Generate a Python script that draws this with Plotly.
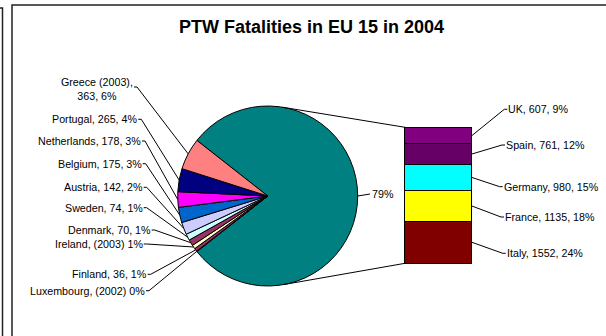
import math
import plotly.graph_objects as go

# ---------------- data ----------------
small_countries = ["Greece", "Portugal", "Netherlands", "Belgium", "Austria",
                   "Sweden", "Denmark", "Ireland", "Finland", "Luxembourg"]
small_values = [363, 265, 178, 175, 142, 74, 70, 45, 36, 6]
small_labels = ["Greece (2003),<br>363, 6%", "Portugal, 265, 4%", "Netherlands, 178, 3%",
                "Belgium, 175, 3%", "Austria, 142, 2%", "Sweden, 74, 1%",
                "Denmark, 70, 1%", "Ireland, (2003) 1%", "Finland, 36, 1%",
                "Luxembourg, (2002) 0%"]
small_colors = ["#FF8080", "#000080", "#FF00FF", "#0066CC", "#CCCCFF",
                "#CCFFFF", "#993366", "#FFFFCC", "#993366", "#9999FF"]

big_countries = ["UK", "Spain", "Germany", "France", "Italy"]
big_values = [607, 761, 980, 1135, 1552]
big_labels = ["UK, 607, 9%", "Spain, 761, 12%", "Germany, 980, 15%",
              "France, 1135, 18%", "Italy, 1552, 24%"]
big_colors = ["#800080", "#660066", "#00FFFF", "#FFFF00", "#800000"]

other_label = "79%"
other_color = "#008080"
title = "PTW Fatalities in EU 15 in 2004"

# ---------------- layout geometry (pixels) ----------------
W, H = 606, 336
CX, CY, R = 267.7, 196.0, 90.0          # main pie
BAR_L, BAR_R, BAR_T, BAR_B = 405.0, 472.0, 127.3, 263.3   # secondary bar
FONT = "Liberation Sans, Arial, sans-serif"
FS = 10.7

# label anchors: left side (right edge x, centre y), right side (left edge x, centre y)
small_label_pos = [(133, 89), (137.3, 119.3), (141, 141), (141.7, 163.7),
                   (142.7, 187.3), (142.7, 207.7), (150.7, 230), (142.7, 244),
                   (146.7, 274.3), (145, 290.7)]
big_label_pos = [(508.3, 109.3), (506, 145), (503.7, 186.7), (505, 217), (506.7, 253.3)]
other_label_pos = (371.5, 194)

other_total = sum(big_values)
small_total = sum(small_values)
grand_total = other_total + small_total
s_frac = small_total / grand_total

# small slices sit on the left, centred on 180 degrees
start_math = 180.0 - 180.0 * s_frac

fig = go.Figure()

# ---- main pie: drawn clockwise starting with the "other" slice ----
pie_values = [other_total] + small_values[::-1]
pie_colors = [other_color] + small_colors[::-1]
pie_names = ["Other"] + small_countries[::-1]
fig.add_trace(go.Pie(
    values=pie_values, labels=pie_names, sort=False, direction="clockwise",
    rotation=90.0 - start_math,
    marker=dict(colors=pie_colors, line=dict(color="black", width=1)),
    textinfo="none", hoverinfo="label+value", showlegend=False,
    domain=dict(x=[(CX - R) / W, (CX + R) / W], y=[1 - (CY + R) / H, 1 - (CY - R) / H]),
))

# ---- stacked bar of the largest countries ----
PAD = 0.05
bar_px = BAR_B - BAR_T
XPAD = 0.1
bar_w = BAR_R - BAR_L
for name, val, col in zip(big_countries[::-1], big_values[::-1], big_colors[::-1]):
    fig.add_trace(go.Bar(
        x=[0], y=[val], width=1, name=name, xaxis="x2", yaxis="y2",
        marker=dict(color=col, line=dict(color="black", width=1)),
        showlegend=False, hoverinfo="name+y",
    ))


def bar_y(v):
    return BAR_B - v / other_total * bar_px


shapes = []
annotations = []


def line(pts, width=1, color="black"):
    path = "M " + " L ".join(f"{x:.2f},{y:.2f}" for x, y in pts)
    shapes.append(dict(type="path", path=path, xref="x", yref="y",
                       line=dict(color=color, width=width), layer="above"))


def text(x, y, s, anchor, size=FS, align="left"):
    annotations.append(dict(x=x, y=y, xref="x", yref="y", text=s, showarrow=False,
                            xanchor=anchor, yanchor="middle", align=align,
                            font=dict(family=FONT, size=size, color="black"),
                            borderpad=0, borderwidth=0))


# ---- left labels with leader lines to slice mid-points ----
cum = 0
for i, (lab, val) in enumerate(zip(small_labels, small_values)):
    mid = start_math + (cum + val / 2) / grand_total * 360.0
    cum += val
    px = CX + R * math.cos(math.radians(mid))
    py = CY - R * math.sin(math.radians(mid))
    lx, ly = small_label_pos[i]
    text(lx, ly, lab, "right", align="center")
    yy = ly - 2 if "<br>" in lab else ly
    line([(lx + 1, yy), (lx + 4, yy), (px, py)])

# ---- right labels with leader lines to bar segments ----
below = 0
segs = []
for val in big_values[::-1]:
    segs.append(below + val / 2)
    below += val
segs = segs[::-1]
for lab, mid, (tx, ty) in zip(big_labels, segs, big_label_pos):
    text(tx, ty, lab, "left")
    line([(BAR_R, bar_y(mid)), (tx - 4, ty), (tx - 1, ty)])

# ---- percentage of the "other" slice ----
text(other_label_pos[0], other_label_pos[1], other_label, "left")
line([(CX + R, CY), (other_label_pos[0] - 1.5, other_label_pos[1])])

# ---- series lines: tangents from the pie to the bar corners ----
for corner in [(BAR_L, BAR_T), (BAR_L, BAR_B)]:
    dx, dy = corner[0] - CX, CY - corner[1]
    d = math.hypot(dx, dy)
    phi = math.atan2(dy, dx)
    a = math.acos(R / d)
    ang = phi + a if dy > 0 else phi - a
    tp = (CX + R * math.cos(ang), CY - R * math.sin(ang))
    line([tp, corner])

# ---- chart frame ----
line([(0, 8), (2.5, 8), (2.5, H)], width=1.5, color="#222")
line([(12, H + 2), (12, 5), (W + 2, 5)], width=1.5, color="#222")

# ---- title ----
annotations.append(dict(x=311, y=27, xref="x", yref="y", text=f"<b>{title}</b>",
                        showarrow=False, xanchor="center", yanchor="middle",
                        font=dict(family=FONT, size=18, color="black")))

fig.update_layout(
    width=W, height=H, margin=dict(l=0, r=0, t=0, b=0, pad=0),
    paper_bgcolor="white", plot_bgcolor="rgba(0,0,0,0)",
    barmode="stack", bargap=0,
    xaxis=dict(range=[0, W], visible=False, fixedrange=True, domain=[0, 1]),
    yaxis=dict(range=[H, 0], visible=False, fixedrange=True, domain=[0, 1]),
    xaxis2=dict(range=[-0.5 - XPAD, 0.5 + XPAD], visible=False, fixedrange=True,
                anchor="y2",
                domain=[(BAR_L - XPAD * bar_w) / W, (BAR_R + XPAD * bar_w) / W]),
    yaxis2=dict(range=[-PAD * other_total, (1 + PAD) * other_total], visible=False,
                fixedrange=True, anchor="x2",
                domain=[1 - (BAR_B + PAD * bar_px) / H, 1 - (BAR_T - PAD * bar_px) / H]),
    shapes=shapes, annotations=annotations, showlegend=False,
)

fig.write_html("out.html")
